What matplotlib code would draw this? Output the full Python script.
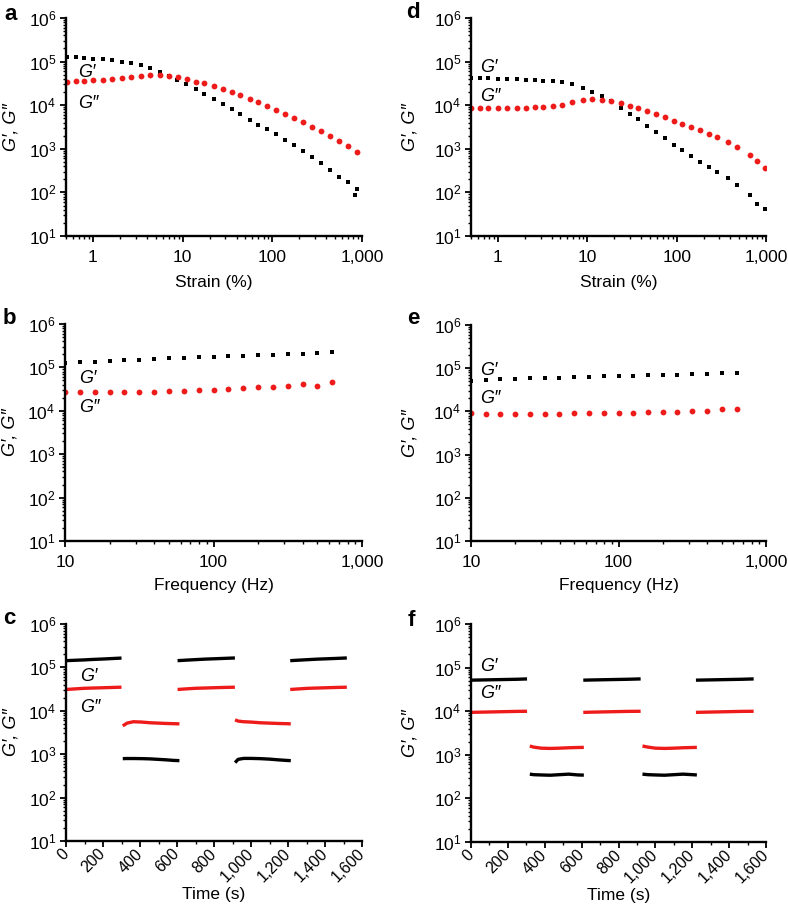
import matplotlib
matplotlib.use("Agg")
import matplotlib.pyplot as plt
from matplotlib.ticker import FixedLocator, LogLocator, FuncFormatter, NullFormatter, MultipleLocator

plt.rcParams['font.family'] = ['Liberation Sans', 'DejaVu Sans']
plt.rcParams['mathtext.fontset'] = 'custom'
plt.rcParams['mathtext.rm'] = 'Liberation Sans'
plt.rcParams['mathtext.it'] = 'Liberation Sans:italic'

BLACK = '#000000'
RED = '#ee1b1b'

# ---------------- Panel a : strain sweep ----------------
strain_a_gp = [0.51, 0.64, 0.80, 1.0, 1.29, 1.63, 2.09, 2.65, 3.41, 4.33, 5.53, 7.01, 8.66,
               11.0, 14.0, 17.5, 22.4, 27.9, 35.6, 44.0, 55.7, 69.5, 87.3, 110, 138, 175,
               220, 279, 353, 440, 557, 695, 873, 837]
gp_a = [1.25e5, 1.25e5, 1.20e5, 1.16e5, 1.14e5, 1.08e5, 9.9e4, 9.25e4, 8.5e4, 6.98e4, 5.85e4,
        4.73e4, 3.70e4, 2.99e4, 2.38e4, 1.83e4, 1.38e4, 1.08e4, 8.1e3, 6.3e3, 4.6e3, 3.6e3,
        2.8e3, 2.13e3, 1.60e3, 1.21e3, 8.97e2, 6.6e2, 4.67e2, 3.28e2, 2.31e2, 1.71e2, 1.22e2, 87.5]
strain_a_gpp = [0.51, 0.64, 0.80, 1.0, 1.29, 1.63, 2.09, 2.65, 3.41, 4.33, 5.53, 7.01, 8.8,
                11.2, 14.0, 17.5, 22.4, 27.9, 35.6, 44.0, 55.7, 69.5, 87.3, 110, 138, 175,
                220, 279, 353, 440, 557, 695, 873]
gpp_a = [3.39e4, 3.51e4, 3.63e4, 3.77e4, 3.83e4, 3.97e4, 4.11e4, 4.41e4, 4.73e4, 4.91e4, 4.91e4,
         4.73e4, 4.41e4, 3.97e4, 3.45e4, 3.16e4, 2.69e4, 2.34e4, 1.96e4, 1.67e4, 1.38e4, 1.16e4,
         9.4e3, 7.8e3, 6.3e3, 5.2e3, 4.2e3, 3.2e3, 2.6e3, 1.98e3, 1.50e3, 1.13e3, 8.6e2]

# ---------------- Panel d : strain sweep ----------------
strain_d = [0.494, 0.623, 0.780, 1.0, 1.27, 1.62, 2.04, 2.57, 3.22, 4.13, 5.25, 6.68, 8.94,
            11.4, 14.5, 18.6, 23.6, 29.8, 36.9, 47.0, 59.2, 73.4, 93.4, 116, 146, 182, 232,
            285, 376, 470, 656, 786, 966]
gp_d = [4.15e4, 4.15e4, 4.15e4, 4.08e4, 4.01e4, 3.94e4, 3.87e4, 3.80e4, 3.67e4, 3.55e4, 3.42e4,
        3.13e4, 2.49e4, 2.02e4, 1.61e4, 1.24e4, 8.7e3, 6.4e3, 4.7e3, 3.42e3, 2.49e3, 1.79e3,
        1.24e3, 9.3e2, 6.8e2, 5.1e2, 3.74e2, 2.92e2, 2.13e2, 1.47e2, 85, 55, 41]
gpp_d = [8.5e3, 8.5e3, 8.5e3, 8.7e3, 8.7e3, 8.7e3, 8.85e3, 9.0e3, 9.3e3, 9.8e3, 1.035e4, 1.17e4,
         1.33e4, 1.40e4, 1.35e4, 1.26e4, 1.13e4, 9.8e3, 8.5e3, 7.3e3, 6.3e3, 5.3e3, 4.45e3,
         3.8e3, 3.13e3, 2.67e3, 2.17e3, 1.85e3, 1.45e3, 1.11e3, 7.4e2, 5.2e2, 3.67e2]

# ---------------- Panels b, e : frequency sweep ----------------
freq = [10, 12.6, 15.8, 20.0, 25.1, 31.6, 39.8, 50.1, 63.1, 79.4, 100, 126, 158, 200,
        251, 316, 398, 501, 631]
gp_b = [1.26e5, 1.30e5, 1.35e5, 1.43e5, 1.45e5, 1.50e5, 1.56e5, 1.61e5, 1.64e5, 1.70e5,
        1.76e5, 1.83e5, 1.86e5, 1.93e5, 1.96e5, 2.0e5, 2.07e5, 2.14e5, 2.22e5]
gpp_b = [2.65e4, 2.65e4, 2.65e4, 2.65e4, 2.65e4, 2.65e4, 2.74e4, 2.79e4, 2.89e4, 2.95e4,
         3.05e4, 3.22e4, 3.28e4, 3.58e4, 3.58e4, 3.71e4, 4.12e4, 3.65e4, 4.51e4]
gp_e = [5.14e4, 5.33e4, 5.52e4, 5.62e4, 5.82e4, 5.93e4, 6.04e4, 6.26e4, 6.37e4, 6.49e4,
        6.6e4, 6.72e4, 6.84e4, 6.96e4, 7.08e4, 7.21e4, 7.35e4, 7.61e4, 7.89e4]
gpp_e = [9.0e3, 8.87e3, 8.71e3, 8.71e3, 8.71e3, 8.87e3, 8.87e3, 9.0e3, 9.0e3, 9.0e3,
         9.18e3, 9.35e3, 9.52e3, 9.69e3, 9.87e3, 1.0e4, 1.02e4, 1.12e4, 1.14e4]

# ---------------- Panel c : step strain recovery (segments) ----------------
c_time = [
    [0, 50, 100, 150, 200, 250, 300],
    [307, 330, 364, 410, 454, 500, 545, 580, 613],
    [603, 650, 700, 750, 800, 850, 913],
    [914, 930, 960, 1000, 1050, 1100, 1150, 1190, 1215],
    [1212, 1260, 1310, 1360, 1410, 1460, 1518],
]
c_gp = [
    [1.43e5, 1.46e5, 1.49e5, 1.53e5, 1.56e5, 1.60e5, 1.64e5],
    [7.9e2, 7.95e2, 7.95e2, 7.9e2, 7.8e2, 7.6e2, 7.4e2, 7.2e2, 7.1e2],
    [1.43e5, 1.47e5, 1.51e5, 1.55e5, 1.58e5, 1.61e5, 1.65e5],
    [6.4e2, 7.6e2, 8.0e2, 8.0e2, 7.9e2, 7.7e2, 7.4e2, 7.2e2, 7.1e2],
    [1.43e5, 1.47e5, 1.51e5, 1.55e5, 1.58e5, 1.61e5, 1.65e5],
]
c_gpp = [
    [3.1e4, 3.2e4, 3.3e4, 3.35e4, 3.4e4, 3.45e4, 3.5e4],
    [4.5e3, 5.2e3, 5.6e3, 5.5e3, 5.3e3, 5.2e3, 5.1e3, 5.05e3, 5.0e3],
    [3.1e4, 3.2e4, 3.3e4, 3.35e4, 3.4e4, 3.45e4, 3.5e4],
    [6.2e3, 5.8e3, 5.6e3, 5.5e3, 5.3e3, 5.2e3, 5.1e3, 5.05e3, 5.0e3],
    [3.1e4, 3.2e4, 3.3e4, 3.35e4, 3.4e4, 3.45e4, 3.5e4],
]

# ---------------- Panel f : step strain recovery (segments) ----------------
f_time = [
    [0, 50, 100, 150, 200, 250, 304],
    [319, 340, 380, 430, 480, 530, 580, 612],
    [609, 650, 700, 750, 800, 850, 920],
    [930, 960, 1000, 1050, 1100, 1150, 1200, 1225],
    [1220, 1270, 1320, 1370, 1420, 1470, 1533],
]
f_gp = [
    [5.15e4, 5.2e4, 5.25e4, 5.3e4, 5.35e4, 5.4e4, 5.5e4],
    [3.6e2, 3.5e2, 3.45e2, 3.4e2, 3.5e2, 3.6e2, 3.45e2, 3.42e2],
    [5.15e4, 5.2e4, 5.25e4, 5.3e4, 5.35e4, 5.4e4, 5.5e4],
    [3.6e2, 3.5e2, 3.45e2, 3.4e2, 3.5e2, 3.6e2, 3.5e2, 3.45e2],
    [5.15e4, 5.2e4, 5.25e4, 5.3e4, 5.35e4, 5.4e4, 5.5e4],
]
f_gpp = [
    [9.4e3, 9.5e3, 9.6e3, 9.7e3, 9.8e3, 9.9e3, 9.96e3],
    [1.59e3, 1.5e3, 1.42e3, 1.40e3, 1.42e3, 1.45e3, 1.47e3, 1.48e3],
    [9.4e3, 9.5e3, 9.6e3, 9.7e3, 9.8e3, 9.9e3, 9.96e3],
    [1.59e3, 1.5e3, 1.42e3, 1.40e3, 1.42e3, 1.45e3, 1.47e3, 1.48e3],
    [9.4e3, 9.5e3, 9.6e3, 9.7e3, 9.8e3, 9.9e3, 9.96e3],
]

ylabel_text = "G\u2032, G\u2033"
FS = 12.5

fig = plt.figure(figsize=(7.88, 9.14), dpi=100)
W, H = 788.0, 914.0

def make_ax(l, r, t, b):
    return fig.add_axes([l / W, 1 - b / H, (r - l) / W, (b - t) / H])

ax_a = make_ax(66, 362, 18, 236)
ax_d = make_ax(471, 766, 18, 236)
ax_b = make_ax(65, 362, 324, 541)
ax_e = make_ax(471, 766, 325, 541)
ax_c = make_ax(66, 362, 624, 841)
ax_f = make_ax(471, 766, 624, 842)

def style(ax, ylab_x):
    for s in ['top', 'right']:
        ax.spines[s].set_visible(False)
    for s in ['left', 'bottom']:
        ax.spines[s].set_linewidth(1.7)
    ax.set_yscale('log')
    ax.set_ylim(10, 1e6)
    ax.yaxis.set_major_locator(FixedLocator([1e1, 1e2, 1e3, 1e4, 1e5, 1e6]))
    ax.yaxis.set_minor_locator(LogLocator(base=10, subs=range(2, 10), numticks=20))
    ax.yaxis.set_minor_formatter(NullFormatter())
    ax.tick_params(axis='both', which='major', direction='out', length=4, width=1.3,
                   labelsize=FS, pad=3)
    ax.tick_params(axis='x', which='major', pad=6)
    ax.tick_params(axis='both', which='minor', direction='out', length=2.5, width=1.0)
    ax.set_ylabel(ylabel_text, fontsize=13, fontstyle='italic', va='center')
    ax.yaxis.set_label_coords(ylab_x, 0.5)

comma = FuncFormatter(lambda v, p: f"{v:,.0f}")

def log_x(ax, lo, hi, majors):
    ax.set_xscale('log')
    ax.set_xlim(lo, hi)
    ax.xaxis.set_major_locator(FixedLocator(majors))
    ax.xaxis.set_major_formatter(comma)
    ax.xaxis.set_minor_locator(LogLocator(base=10, subs=range(2, 10), numticks=20))
    ax.xaxis.set_minor_formatter(NullFormatter())

sq = dict(marker='s', ls='none', color=BLACK, ms=3.5, mew=0)
dot = dict(marker='o', ls='none', color=RED, ms=4.2, mew=0)

# a
ax = ax_a
style(ax, -0.186)
log_x(ax, 0.5, 1000, [1, 10, 100, 1000])
ax.plot(strain_a_gp, gp_a, **sq)
ax.plot(strain_a_gpp, gpp_a, **dot)
ax.set_xlabel("Strain (%)", fontsize=FS)
ax.xaxis.set_label_coords(0.5, -0.179)

# d
ax = ax_d
style(ax, -0.207)
log_x(ax, 0.5, 1000, [1, 10, 100, 1000])
ax.plot(strain_d, gp_d, **sq)
ax.plot(strain_d, gpp_d, **dot)
ax.set_xlabel("Strain (%)", fontsize=FS)
ax.xaxis.set_label_coords(0.5, -0.179)

# b
ax = ax_b
style(ax, -0.186)
log_x(ax, 10, 1000, [10, 100, 1000])
ax.plot(freq, gp_b, **sq)
ax.plot(freq, gpp_b, **dot)
ax.set_xlabel("Frequency (Hz)", fontsize=FS)
ax.xaxis.set_label_coords(0.5, -0.17)

# e
ax = ax_e
style(ax, -0.207)
log_x(ax, 10, 1000, [10, 100, 1000])
ax.plot(freq, gp_e, **sq)
ax.plot(freq, gpp_e, **dot)
ax.set_xlabel("Frequency (Hz)", fontsize=FS)
ax.xaxis.set_label_coords(0.5, -0.17)

# c, f
def time_panel(ax, times, gps, gpps, ylab_x):
    style(ax, ylab_x)
    ax.set_xlim(0, 1600)
    ax.xaxis.set_major_locator(MultipleLocator(200))
    ax.xaxis.set_minor_locator(MultipleLocator(100))
    ax.xaxis.set_major_formatter(comma)
    ax.tick_params(axis='x', which='major', pad=3.5, labelsize=11.5)
    for t, g1, g2 in zip(times, gps, gpps):
        ax.plot(t, g1, color=BLACK, lw=2.4, solid_capstyle='butt')
        ax.plot(t, g2, color=RED, lw=2.4, solid_capstyle='butt')
    for lab in ax.get_xticklabels():
        lab.set_rotation(45)
        lab.set_ha('right')
        lab.set_va('center')
        lab.set_rotation_mode('anchor')
    ax.set_xlabel("Time (s)", fontsize=FS)
    ax.xaxis.set_label_coords(0.5, -0.211)

time_panel(ax_c, c_time, c_gp, c_gpp, -0.186)
time_panel(ax_f, f_time, f_gp, f_gpp, -0.207)

# G', G'' annotations (axes fractions)
ann = [
    (ax_a, 0.04, 0.752, 0.04, 0.61),
    (ax_d, 0.03, 0.771, 0.03, 0.638),
    (ax_b, 0.047, 0.751, 0.047, 0.613),
    (ax_e, 0.03, 0.79, 0.03, 0.66),
    (ax_c, 0.047, 0.756, 0.047, 0.613),
    (ax_f, 0.03, 0.807, 0.03, 0.679),
]
for ax, x1, y1, x2, y2 in ann:
    ax.text(x1, y1, "G\u2032", transform=ax.transAxes, fontsize=13, fontstyle='italic',
            ha='left', va='center')
    ax.text(x2, y2, "G\u2033", transform=ax.transAxes, fontsize=13, fontstyle='italic',
            ha='left', va='center')

# panel letters
letters = [("a", 11, 14), ("d", 413, 12), ("b", 9, 319), ("e", 413, 319), ("c", 9, 619), ("f", 411, 620)]
for s, x, y in letters:
    fig.text(x / W, 1 - y / H, s, fontsize=16, fontweight='bold', ha='center', va='center')

fig.savefig("out.png", dpi=100)
